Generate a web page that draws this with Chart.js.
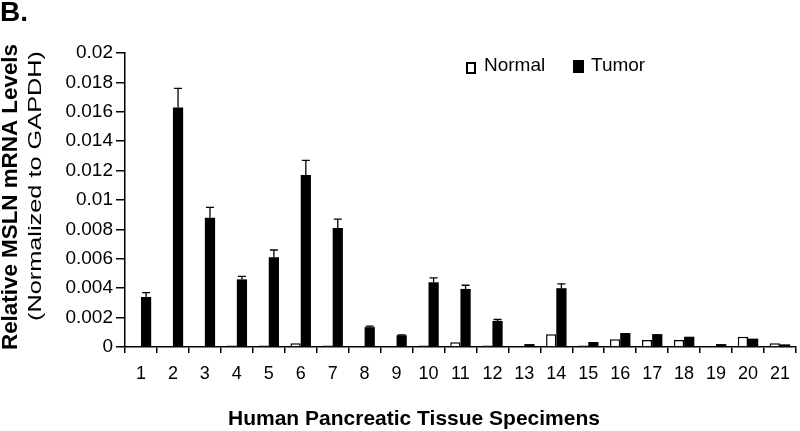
<!DOCTYPE html>
<html>
<head>
<meta charset="utf-8">
<script src="https://cdn.jsdelivr.net/npm/chart.js@4"></script>
<style>
  html, body { margin: 0; padding: 0; background: #fff; }
  #wrap { width: 800px; height: 431px; position: relative; }
</style>
</head>
<body>
<div id="wrap"><canvas id="chart"></canvas></div>
<script>
// specimens 1..21
const specimens = ["1","2","3","4","5","6","7","8","9","10","11","12","13","14","15","16","17","18","19","20","21"];
const normalVals = [0, 0, 0, 0.0001, 0.0001, 0.00025, 0.0001, 0, 0, 0.0001, 0.00032, 0.0001, 0, 0.00086, 0.0001, 0.00052, 0.00047, 0.00047, 0, 0.0007, 0.00025];
const tumorVals = [0.0034, 0.0163, 0.0088, 0.0046, 0.0061, 0.0117, 0.0081, 0.00135, 0.0008, 0.0044, 0.00395, 0.00177, 0.0002, 0.004, 0.00034, 0.00095, 0.00088, 0.0007, 0.0002, 0.00057, 0.00018];
const tumorErr = [0.0003, 0.0013, 0.0007, 0.0002, 0.0005, 0.001, 0.0006, 0.00007, 0.00003, 0.0003, 0.00025, 0.0001, 0, 0.0003, 0, 0, 0, 0, 0, 0, 0];
const yTicks = [0, 0.002, 0.004, 0.006, 0.008, 0.01, 0.012, 0.014, 0.016, 0.018, 0.02];
const xTitle = 'Human Pancreatic Tissue Specimens';

const FONT = "'Liberation Sans', Arial, sans-serif";

const errorBars = {
  id: 'errorBars',
  afterDatasetsDraw(chart) {
    const ctx = chart.ctx;
    const y = chart.scales.y;
    const meta = chart.getDatasetMeta(1);
    ctx.save();
    ctx.strokeStyle = '#000';
    ctx.lineWidth = 1.3;
    meta.data.forEach((bar, i) => {
      const e = tumorErr[i];
      if (!e) return;
      const top = y.getPixelForValue(tumorVals[i] + e);
      ctx.beginPath();
      ctx.moveTo(bar.x, bar.y);
      ctx.lineTo(bar.x, top);
      ctx.moveTo(bar.x - 4, top);
      ctx.lineTo(bar.x + 4, top);
      ctx.stroke();
    });
    ctx.restore();
  }
};

// draw rotated text stretched to a given length
function vText(ctx, text, font, cx, cy, len) {
  ctx.save();
  ctx.font = font;
  const w = ctx.measureText(text).width;
  ctx.translate(cx, cy);
  ctx.rotate(-Math.PI / 2);
  ctx.scale(len / w, 1);
  ctx.textAlign = 'center';
  ctx.textBaseline = 'middle';
  ctx.fillText(text, 0, 0);
  ctx.restore();
}

const extras = {
  id: 'extras',
  afterDraw(chart) {
    const ctx = chart.ctx;
    ctx.save();
    ctx.fillStyle = '#000';
    // panel letter
    ctx.font = 'bold 28px ' + FONT;
    ctx.textAlign = 'left';
    ctx.textBaseline = 'alphabetic';
    ctx.fillText('B.', 0, 21);
    // axis titles
    vText(ctx, 'Relative MSLN mRNA Levels', 'bold 22px ' + FONT, 11, 197, 306);
    vText(ctx, '(Normalized to GAPDH)', '19px ' + FONT, 36, 186, 270);
    ctx.font = 'bold 21px ' + FONT;
    ctx.textAlign = 'center';
    ctx.textBaseline = 'middle';
    ctx.fillText(xTitle, 414, 419);
    // legend
    ctx.font = '19px ' + FONT;
    ctx.textAlign = 'left';
    ctx.textBaseline = 'middle';
    ctx.lineWidth = 2;
    ctx.strokeStyle = '#000';
    ctx.strokeRect(467, 63, 8, 10);
    ctx.fillText(chart.data.datasets[0].label, 484, 66);
    ctx.fillRect(573, 60, 11, 13);
    ctx.fillText(chart.data.datasets[1].label, 591, 66);
    ctx.restore();
  }
};

new Chart(document.getElementById('chart'), {
  type: 'bar',
  data: {
    labels: specimens,
    datasets: [
      {
        label: 'Normal',
        data: normalVals,
        backgroundColor: '#fff',
        borderColor: '#000',
        borderWidth: 1.5,
        categoryPercentage: 0.64,
        barPercentage: 1.0
      },
      {
        label: 'Tumor',
        data: tumorVals,
        backgroundColor: '#000',
        borderColor: '#000',
        borderWidth: 0,
        categoryPercentage: 0.64,
        barPercentage: 1.0
      }
    ]
  },
  options: {
    responsive: true,
    maintainAspectRatio: false,
    animation: false,
    layout: { padding: { top: 53, right: 2, left: 0, bottom: 0 } },
    plugins: {
      legend: { display: false },
      tooltip: { enabled: false }
    },
    scales: {
      x: {
        grid: { display: true, drawOnChartArea: false, color: '#000', tickLength: 6, lineWidth: 1.5 },
        border: { display: true, color: '#000', width: 1.5 },
        ticks: { color: '#000', font: { family: FONT, size: 18 }, padding: 10, maxRotation: 0, autoSkip: false },
        afterFit(scale) { scale.height = 84; }
      },
      y: {
        min: 0,
        max: 0.02,
        afterBuildTicks(scale) { scale.ticks = yTicks.map(v => ({ value: v })); },
        grid: { display: true, drawOnChartArea: false, color: '#000', tickLength: 9, lineWidth: 1.5 },
        border: { display: true, color: '#000', width: 1.5 },
        ticks: {
          color: '#000',
          font: { family: FONT, size: 19 },
          padding: 3,
          callback: v => String(parseFloat(Number(v).toFixed(4)))
        },
        afterFit(scale) { scale.width = 125; }
      }
    }
  },
  plugins: [errorBars, extras]
});
</script>
</body>
</html>
